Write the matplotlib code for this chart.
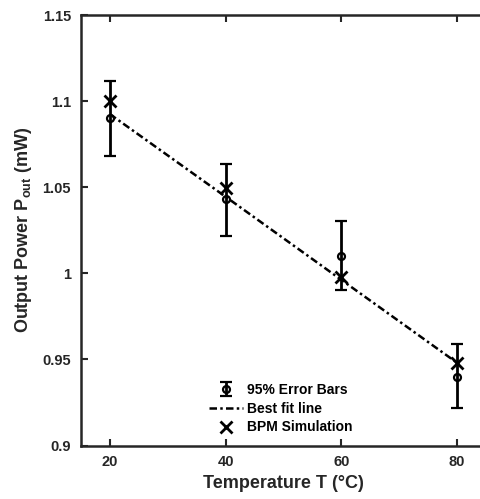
import matplotlib
matplotlib.use("Agg")
import matplotlib.pyplot as plt
from matplotlib.ticker import FixedLocator, FuncFormatter

# Values
temps = [20, 40, 60, 80]
measured = [1.090, 1.043, 1.010, 0.940]
err_low = [0.0219, 0.0216, 0.0198, 0.0184]
err_high = [0.0218, 0.0205, 0.0202, 0.0190]
fit_vals = [1.0925, 1.0445, 0.9962, 0.9480]
bpm_sim = [1.100, 1.0497, 0.998, 0.948]

x_ticks = [20, 40, 60, 80]
y_ticks = [0.9, 0.95, 1.0, 1.05, 1.1, 1.15]

plt.rcParams["font.family"] = ["Liberation Sans", "DejaVu Sans"]
plt.rcParams["font.weight"] = "bold"
plt.rcParams["mathtext.fontset"] = "custom"
plt.rcParams["mathtext.rm"] = "Liberation Sans:bold"
plt.rcParams["mathtext.it"] = "Liberation Sans:bold"
plt.rcParams["mathtext.bf"] = "Liberation Sans:bold"

fig = plt.figure(figsize=(4.81, 4.99), dpi=100)
ax = fig.add_axes([0.168, 0.1072, 0.8426, 0.8627])

eb = ax.errorbar(temps, measured, yerr=[err_low, err_high], fmt="o", color="black",
                 mfc="none", mec="black", markersize=5, mew=1.6, elinewidth=2,
                 capsize=4, capthick=2, label="95% Error Bars", zorder=3)
fit_line, = ax.plot(temps, fit_vals, linestyle=(0, (3, 1.3, 1, 1.3)), color="black",
                    linewidth=1.8, label="Best fit line", zorder=2)
sim, = ax.plot(temps, bpm_sim, linestyle="none", marker="x", color="black",
               markersize=9, mew=2, label="BPM Simulation", zorder=4)

ax.set_xlim(15, 85)
ax.set_ylim(0.9, 1.15)
ax.xaxis.set_major_locator(FixedLocator(x_ticks))
ax.yaxis.set_major_locator(FixedLocator(y_ticks))
ax.yaxis.set_major_formatter(FuncFormatter(lambda v, p: f"{v:g}"))

for side in ["left", "bottom", "top", "right"]:
    ax.spines[side].set_color("#262626")
    ax.spines[side].set_linewidth(1.8)
ax.tick_params(direction="in", length=5, width=1.5, color="#262626",
               labelsize=10.5, labelcolor="#262626", top=True, right=False, pad=7)

ax.set_xlabel("Temperature T (°C)", fontsize=13, fontweight="bold", color="#262626")
ax.set_ylabel("Output Power P$_{out}$ (mW)", fontsize=13, fontweight="bold",
              color="#262626", labelpad=6)

leg = ax.legend([eb, fit_line, sim], ["95% Error Bars", "Best fit line", "BPM Simulation"],
                loc="lower left", bbox_to_anchor=(0.29, 0.0), frameon=False,
                fontsize=10, handlelength=2.4, handletextpad=0.3, labelspacing=0.35,
                borderpad=0.3)

fig.savefig("out.png", dpi=100)
